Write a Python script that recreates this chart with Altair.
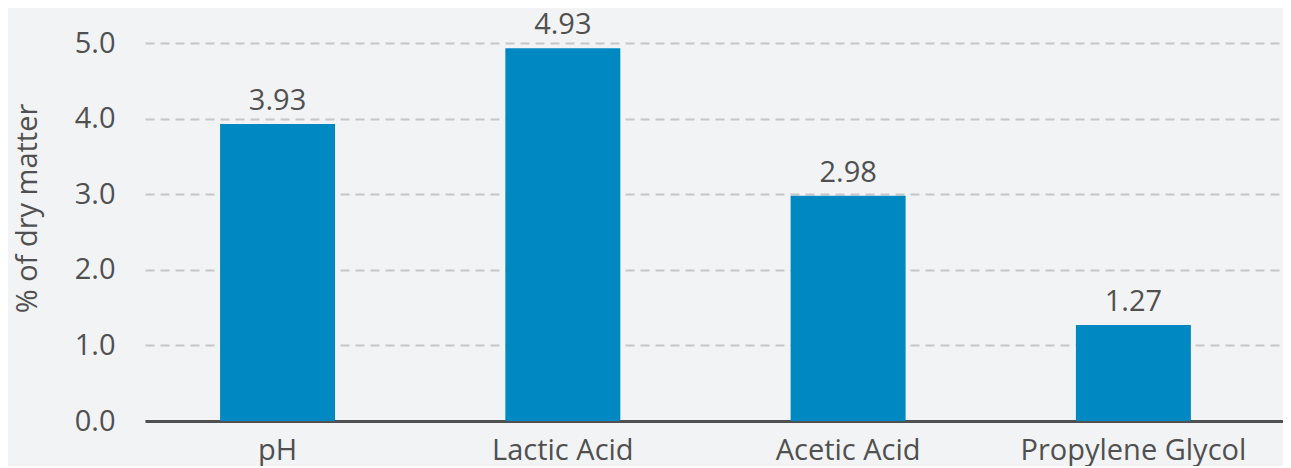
import altair as alt
import pandas as pd

categories = ["pH", "Lactic Acid", "Acetic Acid", "Propylene Glycol"]
values = [3.93, 4.93, 2.98, 1.27]
labels = ["3.93", "4.93", "2.98", "1.27"]
y_ticks = [0, 1, 2, 3, 4, 5]

df = pd.DataFrame({"cat": categories, "val": values, "lab": labels})

FONT = "Open Sans"
TXT = "#505050"
FS = 29

x = alt.X("cat:N", sort=categories, title=None,
          scale=alt.Scale(paddingInner=0.597, paddingOuter=0.293, align=0.449),
          axis=alt.Axis(labelAngle=0, labelFont=FONT, labelFontSize=FS, labelColor=TXT,
                        labelPadding=15, labelLimit=500, ticks=False, domainColor="#505050",
                        domainWidth=3, grid=False))
y = alt.Y("val:Q", title="% of dry matter",
          scale=alt.Scale(domain=[0, 5], nice=False, zero=True),
          axis=alt.Axis(values=y_ticks, format=".1f", labelFont=FONT, labelFontSize=FS,
                        labelColor=TXT, labelPadding=30, ticks=False, domain=False,
                        grid=True, gridColor="#c6c6c6", gridDash=[9, 6], gridWidth=2,
                        titleFont=FONT, titleFontSize=FS, titleColor=TXT,
                        titleFontWeight="normal", titleAngle=270, titleAlign="center",
                        titleBaseline="middle", titleX=-118, titleY=165))

bars = alt.Chart(df).mark_bar(color="#0088C2").encode(x=x, y=y)
text = alt.Chart(df).mark_text(font=FONT, fontSize=FS, color=TXT, baseline="alphabetic",
                               dy=-14).encode(x=alt.X("cat:N", sort=categories), y="val:Q",
                                              text="lab:N")

chart = alt.layer(bars, text).properties(
    width=1138, height=378, background="#F2F3F5",
    autosize=alt.AutoSizeParams(type="none"),
    padding={"left": 137, "top": 35, "right": 0, "bottom": 45},
).configure_view(stroke=None).configure_axis(gridOpacity=1)

chart.save("out.html", embed_options={"renderer": "svg", "actions": False})
